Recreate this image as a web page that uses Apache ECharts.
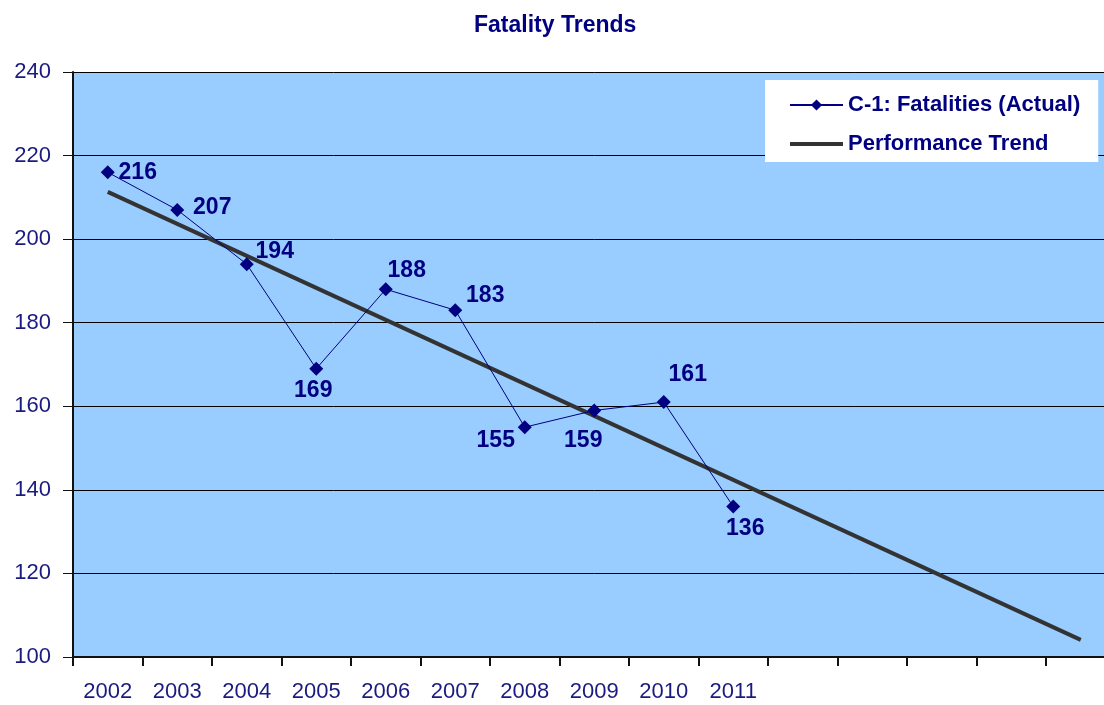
<!DOCTYPE html>
<html>
<head>
<meta charset="utf-8">
<title>Fatality Trends</title>
<script src="https://cdn.jsdelivr.net/npm/echarts@6/dist/echarts.min.js"></script>
<style>
  html, body { margin: 0; padding: 0; background: #fff; overflow: hidden; }
  /* plot runs a little past the right edge of the window, as in the original */
  #main { width: 1116px; height: 705px; }
</style>
</head>
<body>
<div id="main"></div>
<script>
// 数据
var categories = ['2002', '2003', '2004', '2005', '2006', '2007', '2008', '2009', '2010', '2011', '', '', '', '', ''];
var fatalities = [216, 207, 194, 169, 188, 183, 155, 159, 161, 136];
// trend line: only the two ends, joined straight
var trendEnds = [211.3, null, null, null, null, null, null, null, null, null, null, null, null, null, 104.1];
var yTicks = { min: 100, max: 240, step: 20 };

// label placement (pixels from the marker)
var labelOffsets = [[30, 0], [35, -2], [28, -13], [-3, 22], [21, -19], [30, -15], [-29, 13], [-11, 30], [24, -27], [12, 22]];

var navy = '#000080';
var font = 'Liberation Sans, Arial, sans-serif';

var myChart = echarts.init(document.getElementById('main'));

var actualData = fatalities.map(function (v, i) {
    return {
        value: v,
        label: { offset: labelOffsets[i] }
    };
});

myChart.setOption({
    animation: false,
    title: {
        text: 'Fatality Trends',
        left: 469,
        top: 9,
        textStyle: { color: navy, fontFamily: font, fontSize: 23, fontWeight: 'bold' }
    },
    legend: {
        orient: 'vertical',
        left: 765,
        top: 80,
        padding: [14, 18, 7, 24],
        itemGap: 17,
        itemWidth: 53,
        itemHeight: 14,
        backgroundColor: '#ffffff',
        selectedMode: false,
        textStyle: { color: navy, fontFamily: font, fontSize: 22, fontWeight: 'bold' },
        data: [
            'C-1: Fatalities (Actual)',
            // plain thick bar for the trend entry
            { name: 'Performance Trend', icon: 'path://M0,0L0.01,0M0,5L53,5L53,9L0,9ZM53,14L52.99,14', itemStyle: { color: '#333333' } }
        ]
    },
    grid: {
        left: 73,
        top: 72,
        right: 0.5,
        bottom: 48,
        show: true,
        backgroundColor: '#99CCFF',
        borderWidth: 0
    },
    xAxis: {
        type: 'category',
        data: categories,
        boundaryGap: true,
        axisLine: { lineStyle: { color: '#111', width: 2 } },
        axisTick: { show: true, length: 9, lineStyle: { color: '#111', width: 2 } },
        axisLabel: { interval: 0, margin: 24, color: '#1a1a80', fontFamily: font, fontSize: 22 },
        splitLine: { show: false }
    },
    yAxis: {
        type: 'value',
        min: yTicks.min,
        max: yTicks.max,
        interval: yTicks.step,
        axisLine: { show: true, lineStyle: { color: '#111', width: 2 } },
        axisTick: { show: true, length: 10, lineStyle: { color: '#111', width: 1 } },
        axisLabel: { margin: 22, color: '#1a1a80', fontFamily: font, fontSize: 22 },
        splitLine: { show: true, lineStyle: { color: '#000', width: 1 } }
    },
    series: [
        {
            name: 'Performance Trend',
            type: 'line',
            data: trendEnds,
            connectNulls: true,
            symbol: 'none',
            z: 2,
            lineStyle: { color: '#333333', width: 4 },
            itemStyle: { color: '#333333' }
        },
        {
            name: 'C-1: Fatalities (Actual)',
            type: 'line',
            data: actualData,
            symbol: 'diamond',
            symbolSize: 14,
            z: 3,
            lineStyle: { color: navy, width: 1 },
            itemStyle: { color: navy },
            label: {
                show: true,
                position: 'inside',
                color: navy,
                fontFamily: font,
                fontSize: 23,
                fontWeight: 'bold'
            }
        }
    ]
});
</script>
</body>
</html>
